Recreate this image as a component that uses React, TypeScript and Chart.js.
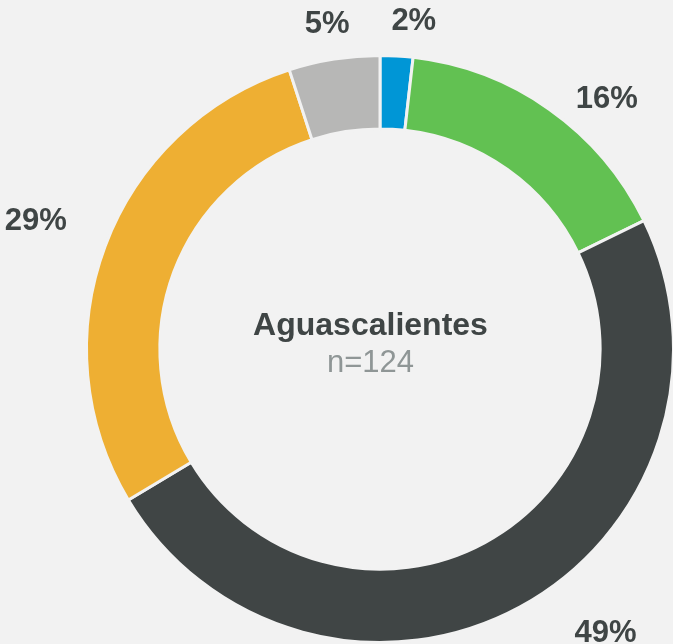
import React, { useEffect, useRef } from "react";
import { Chart, registerables } from "chart.js";

Chart.register(...registerables);

const categories = ["Azul", "Verde", "Gris oscuro", "Naranja", "Gris"];
const shares = [1.8, 16.0, 48.6, 28.6, 5.0];
const shareLabels = ["2%", "16%", "49%", "29%", "5%"];
const colors = ["#0096D6", "#62C152", "#404545", "#EEAF33", "#B7B7B6"];
const centerTitle = "Aguascalientes";
const centerSub = "n=124";

const BG = "#F2F2F2";
const FONT = "'Liberation Sans', Arial, sans-serif";

// label placement relative to each slice's mid-angle (degrees) and distance from centre (px)
const LABEL_ANGLE_SHIFT = [2.6, 6.7, -10.2, 0.2, -0.2];
const LABEL_RADIUS = [332, 339, 361, 368, 331];

const labelPlugin = {
  id: "donutLabels",
  afterDatasetsDraw(chart: any) {
    const ctx = chart.ctx;
    const meta = chart.getDatasetMeta(0);
    if (!meta.data.length) return;
    const first = meta.data[0];
    const cx = first.x;
    const cy = first.y;
    ctx.save();
    ctx.textAlign = "center";
    ctx.textBaseline = "alphabetic";
    ctx.font = `bold 31px ${FONT}`;
    ctx.fillStyle = "#3F4545";
    meta.data.forEach((arc: any, i: number) => {
      const mid = (arc.startAngle + arc.endAngle) / 2 + (LABEL_ANGLE_SHIFT[i] * Math.PI) / 180;
      const r = LABEL_RADIUS[i];
      const x = cx + r * Math.cos(mid);
      const y = cy + r * Math.sin(mid);
      ctx.fillText(shareLabels[i], x, y + 11);
    });
    const tx = cx - 9.5;
    ctx.font = `bold 32px ${FONT}`;
    ctx.fillStyle = "#3F4545";
    ctx.fillText(centerTitle, tx, cy - 14);
    ctx.font = `31px ${FONT}`;
    ctx.fillStyle = "#8F9696";
    ctx.fillText(centerSub, tx, cy + 23);
    ctx.restore();
  },
};

export default function App() {
  const ref = useRef<HTMLCanvasElement>(null);
  useEffect(() => {
    document.body.style.margin = "0";
    document.body.style.background = BG;
    const chart = new Chart(ref.current as HTMLCanvasElement, {
      type: "doughnut",
      data: {
        labels: categories,
        datasets: [
          {
            data: shares,
            backgroundColor: colors,
            borderColor: BG,
            borderWidth: 3,
          },
        ],
      },
      options: {
        responsive: false,
        animation: false,
        cutout: "75%",
        layout: { padding: { left: 85, right: 25, top: 54, bottom: 0 } },
        plugins: {
          legend: { display: false },
          tooltip: { enabled: false },
        },
      },
      plugins: [labelPlugin],
    });
    return () => chart.destroy();
  }, []);
  return (
    <div
      style={{
        position: "absolute",
        left: 0,
        top: 0,
        width: 673,
        height: 644,
        overflow: "hidden",
        background: BG,
      }}
    >
      <canvas ref={ref} width={700} height={644} style={{ display: "block" }} />
    </div>
  );
}
